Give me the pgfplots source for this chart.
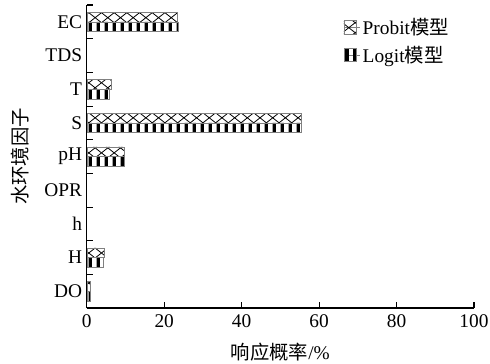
\documentclass[border=0pt]{standalone}
\usepackage{pgfplots}
\pgfplotsset{compat=1.18}
\usepackage{fontspec}
\setmainfont{Liberation Serif}
\newfontfamily\cjk{Noto Sans CJK SC}
\usetikzlibrary{patterns}
\pgfdeclarepatternformonly{vstripes}{\pgfpointorigin}{\pgfpoint{6pt}{40pt}}{\pgfpoint{6pt}{40pt}}{\pgfpathrectangle{\pgfpoint{0.5pt}{0pt}}{\pgfpoint{2.8pt}{40pt}}\pgfusepath{fill}}
\pgfdeclarepatternformonly{xcross}{\pgfpoint{-0.5pt}{-0.5pt}}{\pgfpoint{10pt}{8pt}}{\pgfpoint{9.5pt}{7.5pt}}{\pgfsetlinewidth{0.6pt}\pgfpathmoveto{\pgfpointorigin}\pgfpathlineto{\pgfpoint{9.5pt}{7.5pt}}\pgfpathmoveto{\pgfpoint{0pt}{7.5pt}}\pgfpathlineto{\pgfpoint{9.5pt}{0pt}}\pgfusepath{stroke}}
\begin{document}
\begin{tikzpicture}
\begin{axis}[
  scale only axis, width=290pt, height=227pt,
  xbar, bar width=7.2pt,
  xmin=0, xmax=100, ymin=-0.5, ymax=8.5,
  axis lines=left, axis line style={line width=0.9pt,-},
  xtick={0,20,40,60,80,100},
  ytick={0,...,8},
  yticklabels={DO,H,h,OPR,pH,S,T,TDS,EC},
  minor ytick={0.5,1.5,...,8.5},
  major y tick style={draw=none},
  tick align=inside, major tick length=4.5pt, minor tick length=4.5pt,
  tick style={line width=0.8pt, black},
  tick label style={font=\fontsize{14.5}{16}\selectfont},
  xticklabel style={yshift=-1.5pt},
  /pgf/number format/assume math mode=true,
  xlabel={{\cjk 响应概率}/\%},
  ylabel={\cjk 水环境因子},
  every axis x label/.style={at={(axis description cs:0.5,0)}, anchor=center, yshift=-33pt, font=\fontsize{14.5}{16}\selectfont},
  every axis y label/.style={at={(axis description cs:-0.172,0.5)}, anchor=center, rotate=90, font=\fontsize{14.5}{16}\selectfont},
  legend style={at={(0.652,0.975)}, anchor=north west, draw=none, fill=none,
    font=\fontsize{14.5}{16}\selectfont, row sep=3pt, cells={anchor=west}},
  legend image code/.code={\path (0pt,0pt) -- (12pt,0pt); \draw[#1] (0pt,-5pt) rectangle (9.5pt,5pt);},
  clip=false,
]
\addplot[draw=gray, pattern=xcross, pattern color=black, bar shift=3.6pt]
  coordinates {(1.0,0) (4.4,1) (9.6,4) (55.5,5) (6.2,6) (23.3,8)};
\addplot[draw=gray, pattern=vstripes, pattern color=black, bar shift=-3.6pt]
  coordinates {(0.9,0) (4.2,1) (9.6,4) (55.5,5) (5.8,6) (23.5,8)};
\legend{Probit{\cjk 模型}, Logit{\cjk 模型}}
\coordinate (bl) at (rel axis cs:0,0);
\coordinate (tr) at (rel axis cs:1,1);
\end{axis}
\pgfresetboundingbox
\path (bl) ++(-65pt,-41.25pt) coordinate (A);
\path (tr) ++(12pt,3.75pt) coordinate (B);
\path[use as bounding box] (A) rectangle (B);
\end{tikzpicture}
\end{document}
